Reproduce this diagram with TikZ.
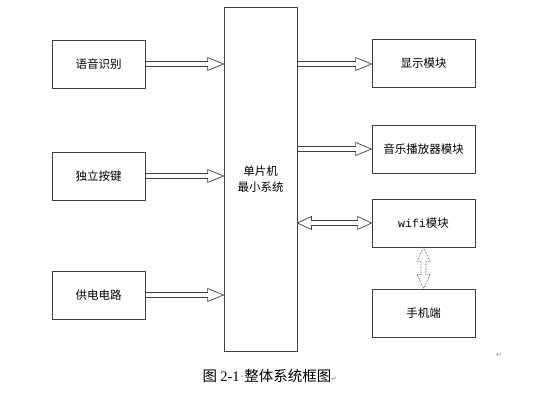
\documentclass[tikz,border=0pt]{standalone}
\usepackage{fontspec}
\setmainfont{Liberation Serif}
\newfontfamily\cjk{Noto Sans CJK SC}
\newfontfamily\symfont{DejaVu Sans}
\usepackage{tikz}
\usetikzlibrary{positioning, calc}
\definecolor{bdLine}{HTML}{404040}
\definecolor{bdMark}{HTML}{8A8A8A}
\tikzset{
  block/.style={
    rectangle,
    draw=bdLine, line width=0.8pt,
    fill=white,
    inner sep=0pt,
    minimum width=93pt, minimum height=48pt,
    align=center,
    font=\cjk\fontsize{11.5}{16}\selectfont
  },
  fatarrow/.style={
    draw=bdLine, line width=0.7pt,
    fill=white, line join=miter
  },
  caption/.style={font=\cjk\fontsize{14.5}{17}\selectfont},
  retmark/.style={font=\symfont\fontsize{7}{8}\selectfont, text=bdMark}
}
% hollow block arrow, one head at #3
\newcommand{\blockarrow}[3][]{%
  \coordinate (ba-a) at #2;
  \coordinate (ba-b) at #3;
  \coordinate (ba-h) at ($(ba-b)!16pt!(ba-a)$);
  \draw[fatarrow,#1] ($(ba-a)!2.5pt!90:(ba-b)$) -- ($(ba-h)!2.5pt!90:(ba-b)$)
    -- ($(ba-h)!6.5pt!90:(ba-b)$) -- (ba-b) -- ($(ba-h)!6.5pt!-90:(ba-b)$)
    -- ($(ba-h)!2.5pt!-90:(ba-b)$) -- ($(ba-a)!2.5pt!-90:(ba-b)$) -- cycle;}
% hollow block arrow, heads at both ends
\newcommand{\dblarrow}[3][]{%
  \coordinate (da-a) at #2;
  \coordinate (da-b) at #3;
  \coordinate (da-h) at ($(da-a)!14pt!(da-b)$);
  \coordinate (da-k) at ($(da-b)!14pt!(da-a)$);
  \draw[fatarrow,#1] (da-a) -- ($(da-h)!6.5pt!90:(da-b)$) -- ($(da-h)!2.5pt!90:(da-b)$)
    -- ($(da-k)!2.5pt!90:(da-b)$) -- ($(da-k)!6.5pt!90:(da-b)$) -- (da-b)
    -- ($(da-k)!6.5pt!-90:(da-b)$) -- ($(da-k)!2.5pt!-90:(da-b)$)
    -- ($(da-h)!2.5pt!-90:(da-b)$) -- ($(da-h)!6.5pt!-90:(da-b)$) -- cycle;}

\begin{document}
\begin{tikzpicture}[x=1pt, y=-1pt]
        \useasboundingbox (0,0) rectangle (546,414);
        \node[block, minimum width=73pt, minimum height=344pt] (mcu) at (260.5,179) {单片机\\最小系统};
        \node[block] (voice) at (98.5,64) {语音识别};
        \node[block] (keys) at (98.5,176) {独立按键};
        \node[block] (power) at (98.5,295) {供电电路};
        \node[block, minimum width=103pt] (disp) at (423.5,63) {显示模块};
        \node[block, minimum width=103pt] (music) at (423.5,149) {音乐播放器模块};
        \node[block, minimum width=103pt] (wifi) at (423.5,223) {{\fontspec{Liberation Mono}wifi}模块};
        \node[block, minimum width=103pt] (phone) at (423.5,313) {手机端};
        \blockarrow{(voice.east)}{(voice.east -| mcu.west)}
        \blockarrow{(keys.east)}{(keys.east -| mcu.west)}
        \blockarrow{(power.east)}{(power.east -| mcu.west)}
        \blockarrow{(mcu.east |- 0,64)}{(disp.west |- 0,64)}
        \blockarrow{(mcu.east |- music.west)}{(music.west)}
        \dblarrow{(mcu.east |- wifi.west)}{(wifi.west)}
        \dblarrow[densely dotted, line width=0.6pt]{(wifi.south)}{(phone.north)}
        \node[caption, anchor=west] (title) at (199,376) {图 {\rmfamily 2-1{\color{bdMark}·}}整体系统框图{\symfont\color{bdMark}\fontsize{7}{8}\selectfont↵}};
        \node[retmark] (endmark) at (499,355) {↵};
      \end{tikzpicture}
\end{document}
